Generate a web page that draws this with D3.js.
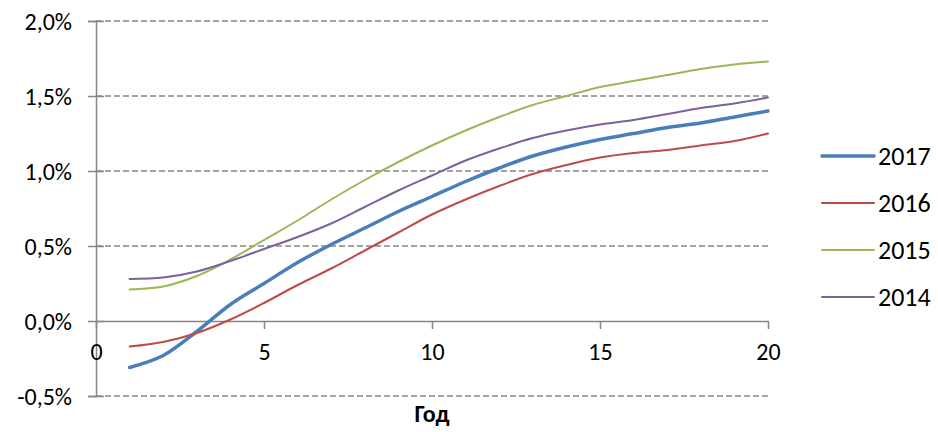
<!DOCTYPE html>
<html><head><meta charset="utf-8">
<script src="https://cdn.jsdelivr.net/npm/d3@7"></script>
<style>
body{margin:0;background:#fff;}
text{font-family:Carlito,Lato,"Open Sans",sans-serif;fill:#000;}
</style></head>
<body><svg id="c" width="938" height="432"></svg>
<script>
const years = [1,2,3,4,5,6,7,8,9,10,11,12,13,14,15,16,17,18,19,20];
const s2017 = [-0.31,-0.23,-0.07,0.11,0.25,0.39,0.51,0.62,0.73,0.83,0.93,1.02,1.10,1.16,1.21,1.25,1.29,1.32,1.36,1.40];
const s2016 = [-0.17,-0.14,-0.08,0.01,0.12,0.24,0.35,0.47,0.59,0.71,0.81,0.90,0.98,1.04,1.09,1.12,1.14,1.17,1.20,1.25];
const s2015 = [0.21,0.23,0.30,0.41,0.54,0.67,0.81,0.94,1.06,1.17,1.27,1.36,1.44,1.50,1.56,1.60,1.64,1.68,1.71,1.73];
const s2014 = [0.28,0.29,0.33,0.40,0.48,0.56,0.65,0.76,0.87,0.97,1.07,1.15,1.22,1.27,1.31,1.34,1.38,1.42,1.45,1.49];
const seriesNames = ["2017","2016","2015","2014"];
const seriesColors = ["#4a7ebb","#be4b48","#98b954","#7d60a0"];
const seriesWidths = [3.5,2,2,2];
const yTicks = [-0.5,0,0.5,1.0,1.5,2.0];
const xTicks = [0,5,10,15,20];
const xTitle = "Год";

const all = [s2017,s2016,s2015,s2014];
const svg = d3.select("#c");
const x = d3.scaleLinear().domain([0,20]).range([96,768]);
const y = d3.scaleLinear().domain([-0.5,2.0]).range([396,21]);
const fmt = v => v.toFixed(1).replace(".",",") + "%";
const gray = "#868686";
const FS = 24;
const FF = "Carlito,Lato,'Open Sans',sans-serif";

// gridlines
svg.append("g").selectAll("line").data(yTicks.filter(v=>v!==0)).join("line")
  .attr("x1",x(0)).attr("x2",x(20)).attr("y1",d=>y(d)).attr("y2",d=>y(d))
  .attr("stroke",gray).attr("stroke-width",1.5).attr("stroke-dasharray","6,3");

// y axis
const ya = svg.append("g").attr("transform",`translate(${x(0)},0)`)
  .call(d3.axisLeft(y).tickValues(yTicks).tickFormat(fmt).tickSize(8).tickPadding(16));
ya.select(".domain").attr("stroke",gray).attr("stroke-width",1.5);
ya.selectAll(".tick line").attr("stroke",gray).attr("stroke-width",1.5).attr("x2",8).attr("x1",-8);
ya.selectAll(".tick text").attr("font-size",FS).attr("font-family",FF).attr("fill","#000").attr("dy","0.36em");

// x axis at zero
const xa = svg.append("g").attr("transform",`translate(0,${y(0)})`)
  .call(d3.axisBottom(x).tickValues(xTicks).tickFormat(d3.format("d")).tickSize(8).tickSizeOuter(0).tickPadding(14));
xa.select(".domain").attr("stroke",gray).attr("stroke-width",1.5);
xa.selectAll(".tick line").attr("stroke",gray).attr("stroke-width",1.5);
xa.selectAll(".tick text").attr("font-size",FS).attr("font-family",FF).attr("fill","#000");

// lines
const line = d3.line().x((d,i)=>x(years[i])).y(d=>y(d)).curve(d3.curveCatmullRom.alpha(0.5));
all.forEach((s,k)=>{
  svg.append("path").datum(s).attr("d",line).attr("fill","none")
    .attr("stroke",seriesColors[k]).attr("stroke-width",seriesWidths[k]).attr("stroke-linecap","round");
});

// x title
svg.append("text").attr("x",x(10)).attr("y",422).attr("text-anchor","middle")
  .attr("font-size",FS).attr("font-weight","bold").text(xTitle);

// legend
const lg = svg.append("g");
seriesNames.forEach((n,k)=>{
  const yy = 156 + k*47;
  lg.append("line").attr("x1",822).attr("x2",874).attr("y1",yy).attr("y2",yy)
    .attr("stroke",seriesColors[k]).attr("stroke-width",seriesWidths[k]).attr("stroke-linecap","round");
  lg.append("text").attr("x",878).attr("y",yy+9).attr("font-size",26).text(n);
});
</script></body></html>
